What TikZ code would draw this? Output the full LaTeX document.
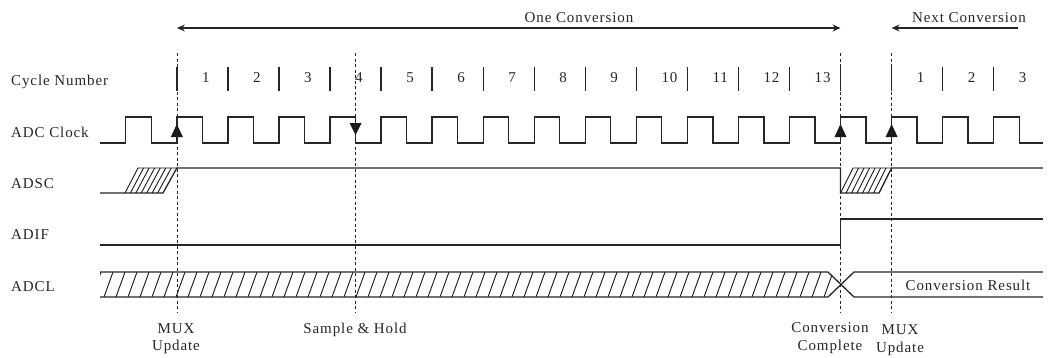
\documentclass[tikz,border=0pt]{standalone}
\usepackage{fontspec}
\setmainfont{Liberation Serif}[LetterSpace=6]
\usetikzlibrary{arrows.meta}
\begin{document}
\begin{tikzpicture}[x=1pt,y=-1pt,
  wave/.style={line width=1.3pt, black!85, line join=miter},
  hline/.style={line width=0.9pt, black!90},
  guide/.style={line width=0.7pt, black!85, dash pattern=on 3pt off 2.5pt},
  spanarrow/.style={line width=1.2pt, black!85},
  txt/.style={font=\fontsize{15}{17}\selectfont, inner sep=0pt, text=black!85},
  edgemark/.style={fill=black!90}]
\useasboundingbox (0,0) rectangle (1048,357);

% row labels
\node[txt, anchor=base west] (l-cyc) at (11,85) {Cycle Number};
\node[txt, anchor=base west] (l-clk) at (11,137) {ADC Clock};
\node[txt, anchor=base west] (l-adsc) at (11,188) {ADSC};
\node[txt, anchor=base west] (l-adif) at (11,239) {ADIF};
\node[txt, anchor=base west] (l-adcl) at (11,291) {ADCL};

% top span arrows
\coordinate (oc-l) at (176.85,28);
\coordinate (oc-r) at (840.5,28);
\coordinate (nc-l) at (891.6,28);
\coordinate (nc-r) at (1018,28);
\draw[spanarrow, {Stealth[length=8pt,width=7pt]}-{Stealth[length=8pt,width=7pt]}] (oc-l) -- (oc-r);
\draw[spanarrow, {Stealth[length=8pt,width=7pt]}-] (nc-l) -- (nc-r);
\node[txt, anchor=base] (t-one) at (579,22) {One Conversion};
\node[txt, anchor=base] (t-next) at (969,22) {Next Conversion};

% cycle ticks and numbers
\foreach \k in {1,...,17}
  \draw[wave] ({125.8+51.05*\k},67) -- ({125.8+51.05*\k},91);
\foreach \k in {1,...,13}
  \node[txt, anchor=base west] (n\k) at ({150.8+51.05*\k},82) {\k};
\foreach \k/\m in {15/1,16/2,17/3}
  \node[txt, anchor=base west] (nn\m) at ({150.8+51.05*\k},82) {\m};

% ADC clock
\draw[wave] (100,143) foreach \k in {0,...,17}{
  -- ({125.8+51.05*\k},143) -- ({125.8+51.05*\k},117)
  -- ({151.3+51.05*\k},117) -- ({151.3+51.05*\k},143)} -- (1043,143);
\foreach \x in {176.85,840.5,891.6}
  \fill[edgemark] (\x-6,137) -- (\x,124) -- (\x+6,137) -- cycle;
\fill[edgemark] (349.5,123) -- (361.5,123) -- (355.5,135) -- cycle;

% ADSC
\draw[wave] (100,193) -- (163,193) -- (176.85,168) -- (840.5,168) -- (840.5,193)
  -- (879,193) -- (891.6,168) -- (1043,168);
\draw[hline] (125,193) -- (138,168) -- (176.85,168);
\draw[hline] (840.5,193) -- (853,168) -- (891.6,168);
\foreach \i in {1,...,6}{
  \draw[hline] ({125+\i*38/7},193) -- ({138+\i*38.85/7},168);
  \draw[hline] ({840.5+\i*38.5/7},193) -- ({853+\i*38.6/7},168);
}

% ADIF
\draw[wave] (100,245) -- (840.5,245) -- (840.5,219) -- (1043,219);

% ADCL
\begin{scope}
  \clip (100,272) -- (828,272) -- (841,284.5) -- (828,297) -- (100,297) -- cycle;
  \foreach \x in {92,104,...,836}
    \draw[hline] (\x,297) -- (\x+9,272);
\end{scope}
\draw[wave] (100,272) -- (828,272) -- (854,297) -- (1043,297);
\draw[wave] (100,297) -- (828,297) -- (854,272) -- (1043,272);
\node[txt, anchor=base] (t-res) at (968,290) {Conversion Result};

% dashed guides
\foreach \x/\n in {176.85/a,355.5/b,840.5/c,891.6/d}{
  \coordinate (g\n-t) at (\x,53);
  \coordinate (g\n-b) at (\x,312);
  \draw[guide] (g\n-t) -- (g\n-b);
}

% bottom labels
\node[txt, anchor=base] (b-mux1) at (176,333) {MUX};
\node[txt, anchor=base] (b-upd1) at (176,350) {Update};
\node[txt, anchor=base] (b-sh) at (355,333) {Sample \& Hold};
\node[txt, anchor=base] (b-conv) at (830,332) {Conversion};
\node[txt, anchor=base] (b-comp) at (830,350) {Complete};
\node[txt, anchor=base] (b-mux2) at (900,334) {MUX};
\node[txt, anchor=base] (b-upd2) at (900,352) {Update};
\end{tikzpicture}
\end{document}
